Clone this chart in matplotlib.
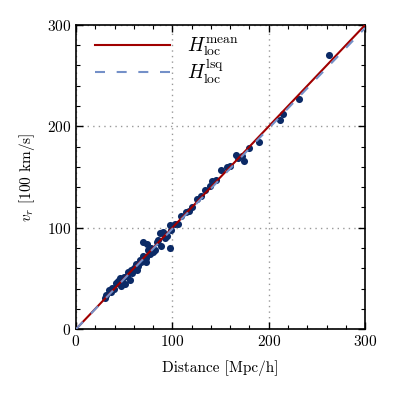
import numpy as np
import matplotlib
matplotlib.use('Agg')
import matplotlib.pyplot as plt
from matplotlib.ticker import MultipleLocator

plt.rcParams['font.family'] = 'serif'
plt.rcParams['font.serif'] = ['cmr10', 'DejaVu Serif']
plt.rcParams['mathtext.fontset'] = 'cm'
plt.rcParams['axes.formatter.use_mathtext'] = True

# Distances [Mpc/h] and radial velocities [100 km/s]
distance = [262.6, 231.5, 215, 212, 190, 179.6, 166, 172, 174.4, 157,
            150.5, 141, 139, 134, 125.6, 120, 114, 109, 103, 97.6,
            90, 94, 97.6, 85, 87, 78, 74, 77, 72.7, 67.5,
            62, 57, 54, 50, 45.7, 41.5, 37, 34, 31, 36,
            56, 51, 63, 70, 82, 88, 66, 47, 60, 92,
            30, 39, 44, 48, 53, 58, 64, 69, 75, 80,
            84, 91, 99, 106, 117, 130, 145, 160, 168, 73]
velocity = [270.4, 227, 212, 206, 185, 178.6, 172, 171, 166, 160,
            157, 146, 141, 137, 128, 120, 115, 111.5, 103.6, 102.6,
            96, 92, 80, 88, 95, 80, 84, 74, 70, 66,
            64, 58, 56, 51, 50, 45, 41, 38.5, 33.5, 36.5,
            48, 44, 58, 86, 78, 82, 68, 42, 60, 90,
            31, 40, 47, 46, 52, 55, 62, 72, 78, 76,
            86, 94, 98, 104, 116, 131, 147, 161, 169, 66]

# fitted Hubble lines
h_mean = 1.0
h_lsq = 0.99
x_fit = np.array([0, 300])

fig = plt.figure(figsize=(3.96, 3.96), dpi=100)
ax = fig.add_axes([0.192, 0.169, 0.73, 0.768])

ax.scatter(distance, velocity, s=26, color='#0b2a66', zorder=2, linewidths=0)
ax.plot(x_fit, h_mean * x_fit, color='#a00000', lw=1.5, zorder=3,
        label=r'$H_{\rm loc}^{\rm mean}$')
ax.plot(x_fit, h_lsq * x_fit, color='#7490c8', lw=1.5, ls=(0, (4.8, 5.6)), zorder=4,
        label=r'$H_{\rm loc}^{\rm lsq}$')

ax.set_xlim(0, 300)
ax.set_ylim(0, 300)
ax.xaxis.set_major_locator(MultipleLocator(100))
ax.yaxis.set_major_locator(MultipleLocator(100))
ax.xaxis.set_minor_locator(MultipleLocator(20))
ax.yaxis.set_minor_locator(MultipleLocator(20))
ax.tick_params(which='both', direction='in', top=True, right=True, labelsize=11)
ax.tick_params(which='major', length=5, width=1)
ax.tick_params(which='minor', length=3, width=0.8)
ax.grid(True, which='major', color='#999999', ls=(0, (1, 3)), lw=1)
ax.set_axisbelow(True)
for s in ax.spines.values():
    s.set_linewidth(1.2)

ax.set_xlabel('Distance [Mpc/h]', fontsize=11, labelpad=8)
ax.set_ylabel(r'$v_r$ [100 km/s]', fontsize=11, labelpad=7)

ax.legend(loc='upper left', bbox_to_anchor=(0.052, 0.978), frameon=False,
          fontsize=14, handlelength=3.85, handletextpad=0.9,
          labelspacing=-0.08, borderaxespad=0.0, borderpad=0.2)

fig.savefig('out.png', dpi=100)
